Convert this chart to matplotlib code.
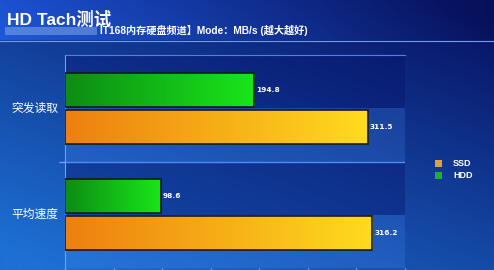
import numpy as np
import matplotlib.pyplot as plt
from matplotlib.patches import Rectangle

# Data
categories = ['突发读取', '平均速度']
hdd = [194.8, 98.6]
ssd = [311.5, 316.2]
series_names = ['SSD', 'HDD']

W, H = 494, 270
fig = plt.figure(figsize=(W / 100, H / 100), dpi=100)

# Background gradient (dark navy top-right, brighter blue bottom-left)
bg = fig.add_axes([0, 0, 1, 1])
yy, xx = np.mgrid[0:H, 0:W]
t = np.clip(0.65 * (yy / H) + 0.45 * (1 - xx / W) - 0.05, 0, 1)
dark = np.array([8, 18, 100]) / 255
bright = np.array([30, 112, 212]) / 255
img = dark + t[..., None] * (bright - dark)
# header band slightly brighter on the left
hdr = yy < 40
img[hdr] = img[hdr] * 0.9 + np.array([0.05, 0.12, 0.3]) * (1 - xx[hdr] / W)[:, None]
bg.imshow(np.clip(img, 0, 1), extent=[0, W, H, 0], aspect='auto')
bg.plot([0, W], [40.5, 40.5], color='#6f9cf0', lw=0.8)
bg.add_patch(Rectangle((5, 27), 92, 8, color='#7fa6e8', alpha=0.55, lw=0))
bg.set_xlim(0, W)
bg.set_ylim(H, 0)
bg.axis('off')

fig.text(7 / W, 1 - 19 / H, 'HD Tach测试', color='white', fontsize=12.5, fontweight='bold',
         family=['Liberation Sans', 'Noto Sans CJK SC'], va='center', ha='left')
fig.text(100 / W, 1 - 30 / H, 'IT168内存硬盘频道】Mode：MB/s (越大越好)', color='white',
         fontsize=7.3, fontweight='bold', family=['Liberation Sans', 'Noto Sans CJK SC'],
         va='center', ha='left')

# Main chart
ax = fig.add_axes([65 / W, 1 - 268 / H, 340 / W, 213 / H])
ax.set_facecolor('none')

y = np.arange(len(categories))
h = 0.32
off = 0.175

# band shading behind each group
for i in y:
    ax.axhspan(i - 0.5, i, color='#05106a', alpha=0.35, lw=0)
    ax.axhspan(i, i + 0.5, color='#4a90ff', alpha=0.2, lw=0)

def grad_bars(vals, ypos, c0, c1):
    bars = ax.barh(ypos, vals, height=h, color='none', edgecolor='#1a1a1a', lw=1.2, zorder=3)
    grad = np.linspace(0, 1, 256)[None, :, None]
    cols = np.array(c0) + grad * (np.array(c1) - np.array(c0))
    for b, v in zip(bars, vals):
        im = ax.imshow(cols, extent=[0, v, b.get_y() + h, b.get_y()], aspect='auto',
                       zorder=2, interpolation='bilinear')
        im.set_clip_path(b)
    return bars

grad_bars(hdd, y - off, (0.05, 0.55, 0.08), (0.1, 0.9, 0.1))
grad_bars(ssd, y + off, (0.93, 0.5, 0.06), (1.0, 0.86, 0.12))
ax.set_ylim(1.5, -0.5)
ax.set_xlim(0, 350)

for i in y:
    ax.text(hdd[i] + 2, i - off, f'{hdd[i]}', color='white', fontsize=5.3, fontweight='bold',
            va='center', ha='left')
    ax.text(ssd[i] + 2, i + off, f'{ssd[i]}', color='white', fontsize=5.3, fontweight='bold',
            va='center', ha='left')

ax.axhline(0.5, color='#4f8cf0', lw=1)
ax.set_yticks([0.5])
ax.set_yticklabels([])
ax.set_xticks(np.arange(0, 351, 50))
ax.set_xticklabels([])
ax.tick_params(colors='#6fa0f5', length=4, width=1)
for s in ['right', 'bottom']:
    ax.spines[s].set_visible(False)
ax.spines['left'].set_color('#6fa0f5')
ax.spines['top'].set_color('#5080e0')
ax.spines['top'].set_linewidth(0.8)

for i, c in enumerate(categories):
    fig.text(35 / W, 1 - (108 + 106 * i) / H, c, color='white', fontsize=8.5,
             family=['Noto Sans CJK SC'], va='center', ha='center')

# Legend
for k, (name, col) in enumerate(zip(series_names, ['#e0a040', '#20b030'])):
    yk = 163 + 12 * k
    bg.add_patch(Rectangle((435, yk - 3.5), 7, 7, color=col, lw=0))
    bg.text(453, yk, name, color='white', fontsize=6.5, fontweight='bold',
            family='Liberation Sans', va='center', ha='left')

fig.savefig('out.png', dpi=100)
